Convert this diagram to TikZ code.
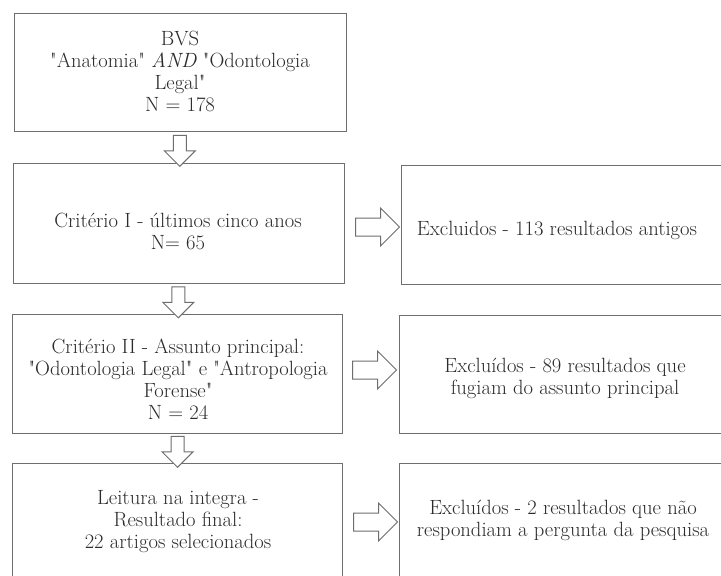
\documentclass[tikz,border=0pt]{standalone}
\usepackage{fontspec}
\newfontfamily\fc{Latin Modern Roman}[Ligatures=TeXOff]
\usetikzlibrary{shapes.arrows,calc}
\definecolor{lin}{HTML}{6E6E6E}
\definecolor{txt}{HTML}{2B2B2B}
\tikzset{
  box/.style={draw=lin, line width=1.2pt, rectangle, anchor=north west, inner sep=0pt},
  lbl/.style={text=txt, align=center, font=\fc\fontsize{20.6}{22}\selectfont, inner sep=0pt},
  darrow/.style={single arrow, draw=lin, line width=1pt, fill=white, inner sep=6pt,
    single arrow head extend=9pt, single arrow tip angle=90, minimum height=31pt,
    shape border rotate=270, outer sep=0pt},
  rarrow/.style={single arrow, draw=lin, line width=1pt, fill=white, inner sep=8.5pt,
    single arrow head extend=10pt, single arrow tip angle=90, minimum height=44pt,
    outer sep=0pt}
}
\begin{document}
\begin{tikzpicture}[x=1pt,y=-1pt]
\useasboundingbox (0,0) rectangle (721,576);
\fill[white] (0,0) rectangle (721,576);
\begin{scope}
\clip (0,0) rectangle (721,576);
% left column boxes
\node[box, minimum width=332pt, minimum height=118pt] (b1) at (14,13) {};
\node[box, minimum width=331pt, minimum height=120pt] (b2) at (13,163) {};
\node[box, minimum width=330pt, minimum height=119pt] (b3) at (12,314) {};
\node[box, minimum width=330pt, minimum height=118pt] (b4) at (12,463) {};
% right column boxes
\node[box, minimum width=330pt, minimum height=119pt] (r1) at (401,165) {};
\node[box, minimum width=332pt, minimum height=118pt] (r2) at (399,315) {};
\node[box, minimum width=332pt, minimum height=116pt] (r3) at (399,463) {};
\end{scope}
% texts
\node[lbl] (t1) at (180,71) {BVS\\"Anatomia" \textit{AND} "Odontologia\\Legal"\\N = 178};
\node[lbl] (t2) at (178,231) {Critério I - últimos cinco anos\\N= 65};
\node[lbl] (t3) at (178,379) {Critério II - Assunto principal:\\"Odontologia Legal" e "Antropologia\\Forense"\\N = 24};
\node[lbl] (t4) at (178,522) {Leitura na integra -\\Resultado final:\\22 artigos selecionados};
\node[lbl] (u1) at (557,230) {Excluidos - 113 resultados antigos};
\node[lbl] (u2) at (565,378) {Excluídos - 89 resultados que\\fugiam do assunto principal};
\node[lbl] (u3) at (563,520) {Excluídos - 2 resultados que não\\respondiam a pergunta da pesquisa};
% down block arrows
\node[darrow] (d1) at ($(b1.south)!0.5!(b2.north)$) {};
\node[darrow] (d2) at ($(b2.south)!0.5!(b3.north)$) {};
\node[darrow] (d3) at ($(b3.south)!0.5!(b4.north)$) {};
% right block arrows
\node[rarrow] (a1) at (373,227) {};
\node[rarrow] (a2) at (370,370) {};
\node[rarrow] (a3) at (371,522) {};
\end{tikzpicture}
\end{document}
